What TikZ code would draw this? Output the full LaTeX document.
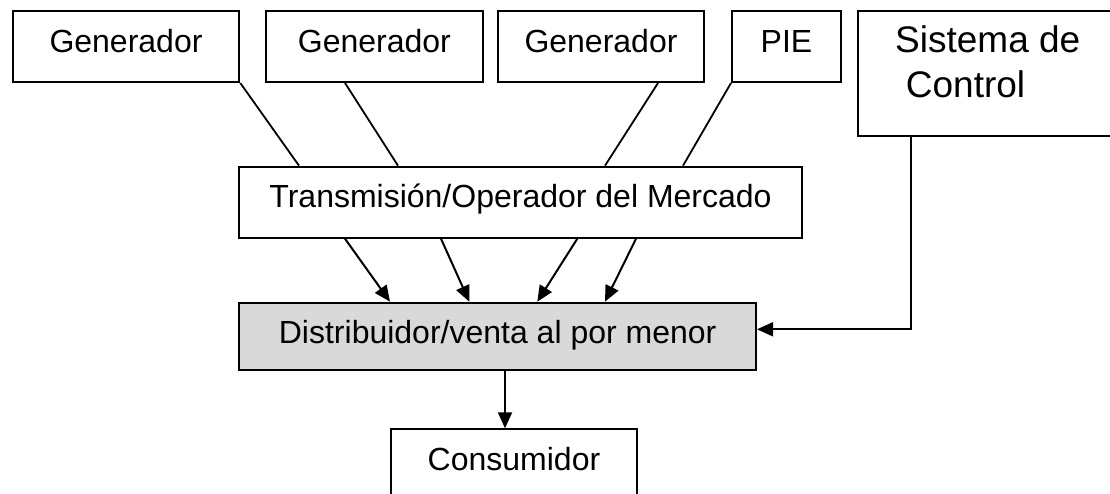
\documentclass[tikz,border=0pt]{standalone}
\usepackage{fontspec}
\setmainfont{Liberation Sans}
\usetikzlibrary{arrows.meta,calc}
\definecolor{distgray}{HTML}{D9D9D9}
\begin{document}
\begin{tikzpicture}[x=1pt,y=-1pt,
  box/.style={draw=black,line width=2pt,inner sep=0pt,anchor=north west,
    font=\fontsize{32}{38}\selectfont,text height=23pt,text depth=10pt},
  link/.style={line width=1.8pt},
  flow/.style={line width=2pt,-{Triangle[length=16pt,width=14pt]}}]
\clip (0,0) rectangle (1110,494);
\fill[white] (0,0) rectangle (1110,494);
% top row
\node[box,minimum width=226.6pt,minimum height=71pt] (g1) at (11.7,10) {Generador};
\node[box,minimum width=216.7pt,minimum height=71pt] (g2) at (265,10) {Generador};
\node[box,minimum width=205.4pt,minimum height=71pt] (g3) at (497.3,10) {Generador};
\node[box,minimum width=109pt,minimum height=71pt] (pie) at (731,10) {PIE};
\node[box,minimum width=300pt,minimum height=125pt] (sc) at (857.3,10) {};
\node[anchor=base west,inner sep=0pt,align=left,font=\fontsize{37}{45}\selectfont] (sctext) at (895,98) {Sistema de\\\hspace*{10.7pt}Control};
% middle
\node[box,minimum width=562.4pt,minimum height=71pt,text depth=13pt] (tr) at (238.3,165.7) {Transmisión/Operador del Mercado};
\node[box,fill=distgray,minimum width=516.7pt,minimum height=67.6pt] (di) at (238.3,301.7) {Distribuidor/venta al por menor};
\node[box,minimum width=246pt,minimum height=70pt] (co) at (390,428.3) {Consumidor};
% links generators -> transmission
\draw[link] (g1.south east) -- ([xshift=60.7pt]tr.north west);
\draw[link] ([xshift=80pt]g2.south west) -- ([xshift=159.7pt]tr.north west);
\draw[link] ([xshift=160.7pt]g3.south west) -- ([xshift=366.7pt]tr.north west);
\draw[link] (pie.south west) -- ([xshift=444.7pt]tr.north west);
% arrows transmission -> distribution
\draw[flow] ([xshift=106.7pt]tr.south west) -- ([xshift=151.7pt]di.north west);
\draw[flow] ([xshift=202.7pt]tr.south west) -- ([xshift=231pt]di.north west);
\draw[flow] ([xshift=339pt]tr.south west) -- ([xshift=299pt]di.north west);
\draw[flow] ([xshift=397.7pt]tr.south west) -- ([xshift=366.7pt]di.north west);
% distribution -> consumer
\draw[flow] ([xshift=266.7pt]di.south west) -- ([xshift=115pt]co.north west);
% control -> distribution
\draw[flow,line width=1.8pt] ([xshift=53.4pt]sc.south west) |- ([yshift=7.2pt]di.east);
\end{tikzpicture}
\end{document}
